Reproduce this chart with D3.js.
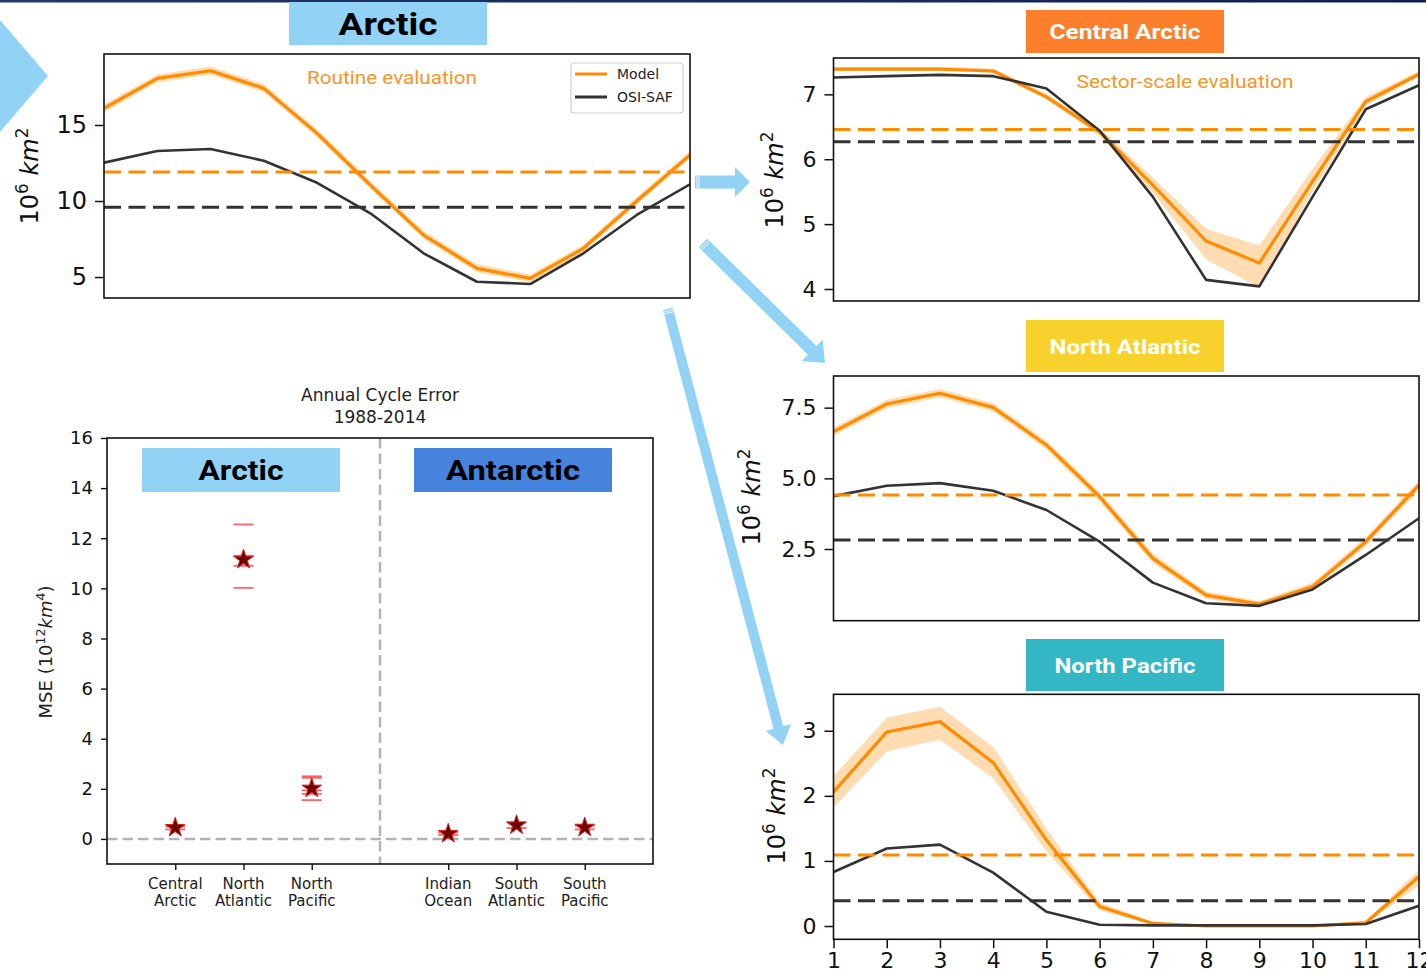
<!DOCTYPE html>
<html><head><meta charset="utf-8">
<script src="https://cdn.jsdelivr.net/npm/d3@7"></script>
<style>
body{margin:0;background:#fff;}
svg{display:block;}
text{white-space:pre;}
</style></head><body>
<svg id="c" width="1426" height="974"></svg>
<script>
// ---------------- DATA ----------------
const months = [1,2,3,4,5,6,7,8,9,10,11,12];
const legendLabels = ["Model","OSI-SAF"];

// Arctic (routine evaluation)
const arcticModel     = [16.10,18.07,18.57,17.41,14.45,11.05,7.76,5.57,4.91,6.89,10.00,13.03];
const arcticModelLow  = [15.82,17.80,18.30,17.15,14.20,10.80,7.50,5.32,4.66,6.64,9.75,12.80];
const arcticModelHigh = [16.36,18.32,18.85,17.70,14.72,11.32,8.02,5.85,5.16,7.12,10.26,13.27];
const arcticObs       = [12.52,13.29,13.42,12.65,11.20,9.19,6.56,4.69,4.54,6.56,9.08,11.10];
const arcticMeans     = [11.90, 9.59];   // model, obs
const arcticTicks     = [5,10,15];

// Central Arctic
const caModel     = [7.39,7.39,7.39,7.36,6.96,6.42,5.60,4.74,4.40,5.66,6.89,7.31];
const caModelLow  = [7.36,7.37,7.37,7.33,6.92,6.36,5.48,4.46,4.02,5.50,6.82,7.27];
const caModelHigh = [7.42,7.42,7.42,7.40,7.01,6.48,5.72,4.93,4.67,5.85,6.96,7.36];
const caObs       = [7.26,7.28,7.30,7.28,7.09,6.44,5.42,4.14,4.04,5.42,6.77,7.14];
const caMeans     = [6.46, 6.27];
const caTicks     = [4,5,6,7];

// North Atlantic
const naModel     = [6.65,7.63,8.01,7.51,6.18,4.35,2.17,0.87,0.55,1.17,2.76,4.76];
const naModelLow  = [6.50,7.48,7.86,7.36,6.02,4.18,2.00,0.74,0.45,1.04,2.60,4.60];
const naModelHigh = [6.80,7.78,8.16,7.66,6.33,4.52,2.34,1.00,0.66,1.31,2.92,4.92];
const naObs       = [4.37,4.74,4.83,4.56,3.88,2.76,1.31,0.58,0.49,1.07,2.29,3.59];
const naMeans     = [4.41, 2.82];
const naTicks     = [2.5,5.0,7.5];

// North Pacific
const npModel     = [2.06,2.98,3.14,2.51,1.32,0.30,0.04,0.00,0.00,0.00,0.05,0.76];
const npModelLow  = [1.82,2.68,2.86,2.27,1.15,0.24,0.02,-0.02,-0.02,-0.02,0.03,0.62];
const npModelHigh = [2.30,3.20,3.37,2.75,1.50,0.36,0.06,0.02,0.02,0.02,0.08,0.86];
const npObs       = [0.83,1.19,1.25,0.82,0.22,0.02,0.01,0.01,0.01,0.01,0.03,0.31];
const npMeans     = [1.09, 0.39];
const npTicks     = [0,1,2,3];

// Annual cycle error (MSE)
const mseRegions   = [["Central","Arctic"],["North","Atlantic"],["North","Pacific"],["Indian","Ocean"],["South","Atlantic"],["South","Pacific"]];
const msePositions = [0,1,2,4,5,6];
const mseValues    = [0.45,11.15,2.02,0.21,0.55,0.46];
const mseMembers   = [[0.38,0.50],[12.55,11.30,10.90,10.02],[2.50,2.44,1.94,1.80,1.55],[0.16,0.27],[0.44,0.66],[0.38,0.53]];
const mseTicks     = [0,2,4,6,8,10,12,14,16];
const mseDivider   = 3;

// ---------------- STYLE / LAYOUT ----------------
const ORANGE = "#ff8c00", BLACK = "#333333", ANNOT = "#f7952a", ARROW = "#92d3f5";
const FONT = "'DejaVu Sans', sans-serif";
const TITLEFONT = "Roboto, 'Noto Sans', sans-serif";
const svg = d3.select("#c");

// top navy strip
const grad = svg.append("defs").append("linearGradient").attr("id","navy");
grad.append("stop").attr("offset","0").attr("stop-color","#24366a");
grad.append("stop").attr("offset","1").attr("stop-color","#0f1f52");
svg.append("rect").attr("x",0).attr("y",0).attr("width",1426).attr("height",2.5).attr("fill","url(#navy)");
// chevron
svg.append("path").attr("d","M0,20 L48,76 L0,132 Z").attr("fill",ARROW);

function arrow(x0,y0,x1,y1,sw,hw,hl){
  const dx=x1-x0, dy=y1-y0, len=Math.hypot(dx,dy), ux=dx/len, uy=dy/len, px=-uy, py=ux;
  const bx=x1-ux*hl, by=y1-uy*hl;
  const pts=[[x0+px*sw/2,y0+py*sw/2],[bx+px*sw/2,by+py*sw/2],[bx+px*hw/2,by+py*hw/2],[x1,y1],
             [bx-px*hw/2,by-py*hw/2],[bx-px*sw/2,by-py*sw/2],[x0-px*sw/2,y0-py*sw/2]];
  svg.append("polygon").attr("points",pts.map(p=>p.join(",")).join(" ")).attr("fill",ARROW);
  [2,4].forEach(o=>{
    svg.append("line").attr("x1",x0+ux*o+px*sw/2).attr("y1",y0+uy*o+py*sw/2)
      .attr("x2",x0+ux*o-px*sw/2).attr("y2",y0+uy*o-py*sw/2).attr("stroke","#fff").attr("stroke-width",0.8);
  });
}
arrow(695,182,750,182,13,30,15);
arrow(703,243,825,363,12,30,18);
arrow(668,309,783,745,10,26,18);

function titleBox(x,y,w,h,fill,label,size,tw,color,baseline){
  svg.append("rect").attr("x",x).attr("y",y).attr("width",w).attr("height",h).attr("fill",fill);
  svg.append("text").attr("x",x+w/2).attr("y",baseline).attr("text-anchor","middle")
    .attr("textLength",tw).attr("lengthAdjust","spacingAndGlyphs")
    .style("font-family",TITLEFONT).style("font-weight","bold").style("font-size",size+"px")
    .attr("fill",color).text(label);
}

function yLabel(x,y,size){
  const t=svg.append("text").attr("transform",`translate(${x},${y}) rotate(-90)`).attr("text-anchor","middle")
    .style("font-family",FONT).style("font-size",size+"px").attr("fill","#111");
  t.append("tspan").text("10");
  t.append("tspan").attr("dy",-size*0.42).style("font-size",(size*0.7)+"px").text("6");
  t.append("tspan").attr("dy",size*0.42).text(" ");
  t.append("tspan").style("font-style","italic").text("km");
  t.append("tspan").attr("dy",-size*0.42).style("font-size",(size*0.7)+"px").text("2");
}

let clipId=0;
function linePanel(cfg){
  const x=d3.scaleLinear().domain([1,12]).range([cfg.left,cfg.right]);
  const y=d3.scaleLinear().domain(cfg.y).range([cfg.bottom,cfg.top]);
  const id="clip"+(clipId++);
  svg.append("clipPath").attr("id",id).append("rect").attr("x",cfg.left).attr("y",cfg.top)
     .attr("width",cfg.right-cfg.left).attr("height",cfg.bottom-cfg.top);
  const g=svg.append("g").attr("clip-path",`url(#${id})`);
  const idx=d3.range(months.length);
  g.append("path").datum(idx).attr("fill",ORANGE).attr("fill-opacity",0.3)
    .attr("d",d3.area().x(i=>x(months[i])).y0(i=>y(cfg.low[i])).y1(i=>y(cfg.high[i])));
  g.append("path").datum(idx).attr("fill","none").attr("stroke",ORANGE).attr("stroke-width",3.2)
    .attr("stroke-linejoin","round").attr("d",d3.line().x(i=>x(months[i])).y(i=>y(cfg.model[i])));
  g.append("path").datum(idx).attr("fill","none").attr("stroke",BLACK).attr("stroke-width",2.6)
    .attr("stroke-linejoin","round").attr("d",d3.line().x(i=>x(months[i])).y(i=>y(cfg.obs[i])));
  [[cfg.means[0],ORANGE],[cfg.means[1],BLACK]].forEach(([m,c])=>{
    g.append("line").attr("x1",cfg.left).attr("x2",cfg.right).attr("y1",y(m)).attr("y2",y(m))
      .attr("stroke",c).attr("stroke-width",3).attr("stroke-dasharray","17,7.5");
  });
  svg.append("rect").attr("x",cfg.left).attr("y",cfg.top).attr("width",cfg.right-cfg.left)
    .attr("height",cfg.bottom-cfg.top).attr("fill","none").attr("stroke","#111").attr("stroke-width",1.6);
  const ya=svg.append("g").attr("transform",`translate(${cfg.left},0)`)
    .call(d3.axisLeft(y).tickValues(cfg.ticks).tickFormat(cfg.fmt||d3.format("d")).tickSize(9).tickPadding(8).tickSizeOuter(0));
  ya.select(".domain").remove();
  ya.selectAll("line").attr("stroke","#111").attr("stroke-width",1.5);
  ya.selectAll("text").style("font-family",FONT).style("font-size",cfg.font+"px").attr("fill","#111");
  if(cfg.xaxis){
    const xa=svg.append("g").attr("transform",`translate(0,${cfg.bottom})`)
      .call(d3.axisBottom(x).tickValues(months).tickFormat(d3.format("d")).tickSize(9).tickPadding(4).tickSizeOuter(0));
    xa.select(".domain").remove();
    xa.selectAll("line").attr("stroke","#111").attr("stroke-width",1.5);
    xa.selectAll("text").style("font-family",FONT).style("font-size",cfg.font+"px").attr("fill","#111");
  }
  return {x,y};
}

// ---- Arctic (top-left)
titleBox(289,2,198,43,"#92d3f5","Arctic",32,99,"#000",35);
linePanel({left:104,right:690,top:54,bottom:298,y:[3.62,19.67],ticks:arcticTicks,font:24,
  model:arcticModel,low:arcticModelLow,high:arcticModelHigh,obs:arcticObs,means:arcticMeans});
yLabel(38,176,24);
svg.append("text").attr("x",392).attr("y",84).attr("text-anchor","middle").attr("textLength",170)
  .attr("lengthAdjust","spacingAndGlyphs").style("font-family",TITLEFONT).style("font-size","19px")
  .attr("fill",ANNOT).text("Routine evaluation");
// legend
svg.append("rect").attr("x",571).attr("y",63).attr("width",112).attr("height",50).attr("rx",3)
  .attr("fill","#fff").attr("stroke","#d0d0d0").attr("stroke-width",1.2);
[[ORANGE,74],[BLACK,97]].forEach(([c,yy],i)=>{
  svg.append("line").attr("x1",575).attr("x2",607).attr("y1",yy).attr("y2",yy).attr("stroke",c).attr("stroke-width",3);
  svg.append("text").attr("x",617).attr("y",yy+5).style("font-family",FONT).style("font-size","14px")
    .attr("fill","#222").text(legendLabels[i]);
});

// ---- Central Arctic
titleBox(1026,10,198,43,"#fd7f2c","Central Arctic",21,151,"#fff",39);
linePanel({left:833.5,right:1419,top:58,bottom:301,y:[3.815,7.56],ticks:caTicks,font:22,
  model:caModel,low:caModelLow,high:caModelHigh,obs:caObs,means:caMeans});
yLabel(783,180,24);
svg.append("text").attr("x",1185).attr("y",88).attr("text-anchor","middle").attr("textLength",217)
  .attr("lengthAdjust","spacingAndGlyphs").style("font-family",TITLEFONT).style("font-size","19px")
  .attr("fill",ANNOT).text("Sector-scale evaluation");

// ---- North Atlantic
titleBox(1026,320,198,52,"#f9d12c","North Atlantic",21,151,"#fff",354);
linePanel({left:833.5,right:1419,top:376,bottom:620.7,y:[-0.036,8.62],ticks:naTicks,font:22,fmt:d3.format(".1f"),
  model:naModel,low:naModelLow,high:naModelHigh,obs:naObs,means:naMeans});
yLabel(760,497,24);

// ---- North Pacific
titleBox(1026,639,198,52,"#33b7c5","North Pacific",21,141,"#fff",673);
linePanel({left:833.5,right:1419,top:694.3,bottom:939.3,y:[-0.204,3.56],ticks:npTicks,font:22,xaxis:true,
  model:npModel,low:npModelLow,high:npModelHigh,obs:npObs,means:npMeans});
yLabel(785,816,24);

// ---- MSE panel
(function(){
  const P={left:107,right:653,top:438,bottom:864};
  const x=d3.scaleLinear().domain([-1,7]).range([P.left,P.right]);
  const y=d3.scaleLinear().domain([-1,16]).range([P.bottom,P.top]);
  svg.append("line").attr("x1",P.left).attr("x2",P.right).attr("y1",y(0)).attr("y2",y(0))
    .attr("stroke","#b3b3b3").attr("stroke-width",2.5).attr("stroke-dasharray","10.5,5");
  svg.append("line").attr("x1",x(mseDivider)).attr("x2",x(mseDivider)).attr("y1",P.top).attr("y2",P.bottom)
    .attr("stroke","#b3b3b3").attr("stroke-width",2.5).attr("stroke-dasharray","10.5,5");
  titleBox(142,448,198,44,"#92d3f5","Arctic",28,85,"#000",480);
  titleBox(414,448,198,44,"#4683dc","Antarctic",28,134,"#000",480);
  mseMembers.forEach((arr,i)=>{
    arr.forEach(v=>{
      svg.append("line").attr("x1",x(msePositions[i])-10).attr("x2",x(msePositions[i])+10)
        .attr("y1",y(v)).attr("y2",y(v)).attr("stroke","#ff3b3b").attr("stroke-opacity",0.8).attr("stroke-width",1.8);
    });
  });
  mseValues.forEach((v,i)=>{
    svg.append("path").attr("d",d3.symbol(d3.symbolStar,120)())
      .attr("transform",`translate(${x(msePositions[i])},${y(v)})`)
      .attr("fill","#6e0000").attr("stroke","#d42020").attr("stroke-width",1);
  });
  svg.append("rect").attr("x",P.left).attr("y",P.top).attr("width",P.right-P.left).attr("height",P.bottom-P.top)
    .attr("fill","none").attr("stroke","#111").attr("stroke-width",1.6);
  const ya=svg.append("g").attr("transform",`translate(${P.left},0)`)
    .call(d3.axisLeft(y).tickValues(mseTicks).tickFormat(d3.format("d")).tickSize(6).tickPadding(8).tickSizeOuter(0));
  ya.select(".domain").remove();
  ya.selectAll("line").attr("stroke","#111").attr("stroke-width",1.4);
  ya.selectAll("text").style("font-family",FONT).style("font-size","18px").attr("fill","#111");
  const xa=svg.append("g").attr("transform",`translate(0,${P.bottom})`)
    .call(d3.axisBottom(x).tickValues(msePositions).tickFormat("").tickSize(6).tickSizeOuter(0));
  xa.select(".domain").remove();
  xa.selectAll("line").attr("stroke","#111").attr("stroke-width",1.4);
  mseRegions.forEach((lab,i)=>{
    lab.forEach((s,j)=>{
      svg.append("text").attr("x",x(msePositions[i])).attr("y",889+j*17).attr("text-anchor","middle")
        .style("font-family",FONT).style("font-size","15px").attr("fill","#222").text(s);
    });
  });
  svg.append("text").attr("x",380).attr("y",401).attr("text-anchor","middle").style("font-family",FONT)
    .style("font-size","17px").attr("fill","#222").text("Annual Cycle Error");
  svg.append("text").attr("x",380).attr("y",423).attr("text-anchor","middle").style("font-family",FONT)
    .style("font-size","17px").attr("fill","#222").text("1988-2014");
  const t=svg.append("text").attr("transform",`translate(52,652) rotate(-90)`).attr("text-anchor","middle")
    .style("font-family",FONT).style("font-size","18px").attr("fill","#222");
  t.append("tspan").text("MSE (10");
  t.append("tspan").attr("dy",-7).style("font-size","12.5px").text("12");
  t.append("tspan").attr("dy",7).style("font-style","italic").text("km");
  t.append("tspan").attr("dy",-7).style("font-size","12.5px").text("4");
  t.append("tspan").attr("dy",7).text(")");
})();
</script>
</body></html>
